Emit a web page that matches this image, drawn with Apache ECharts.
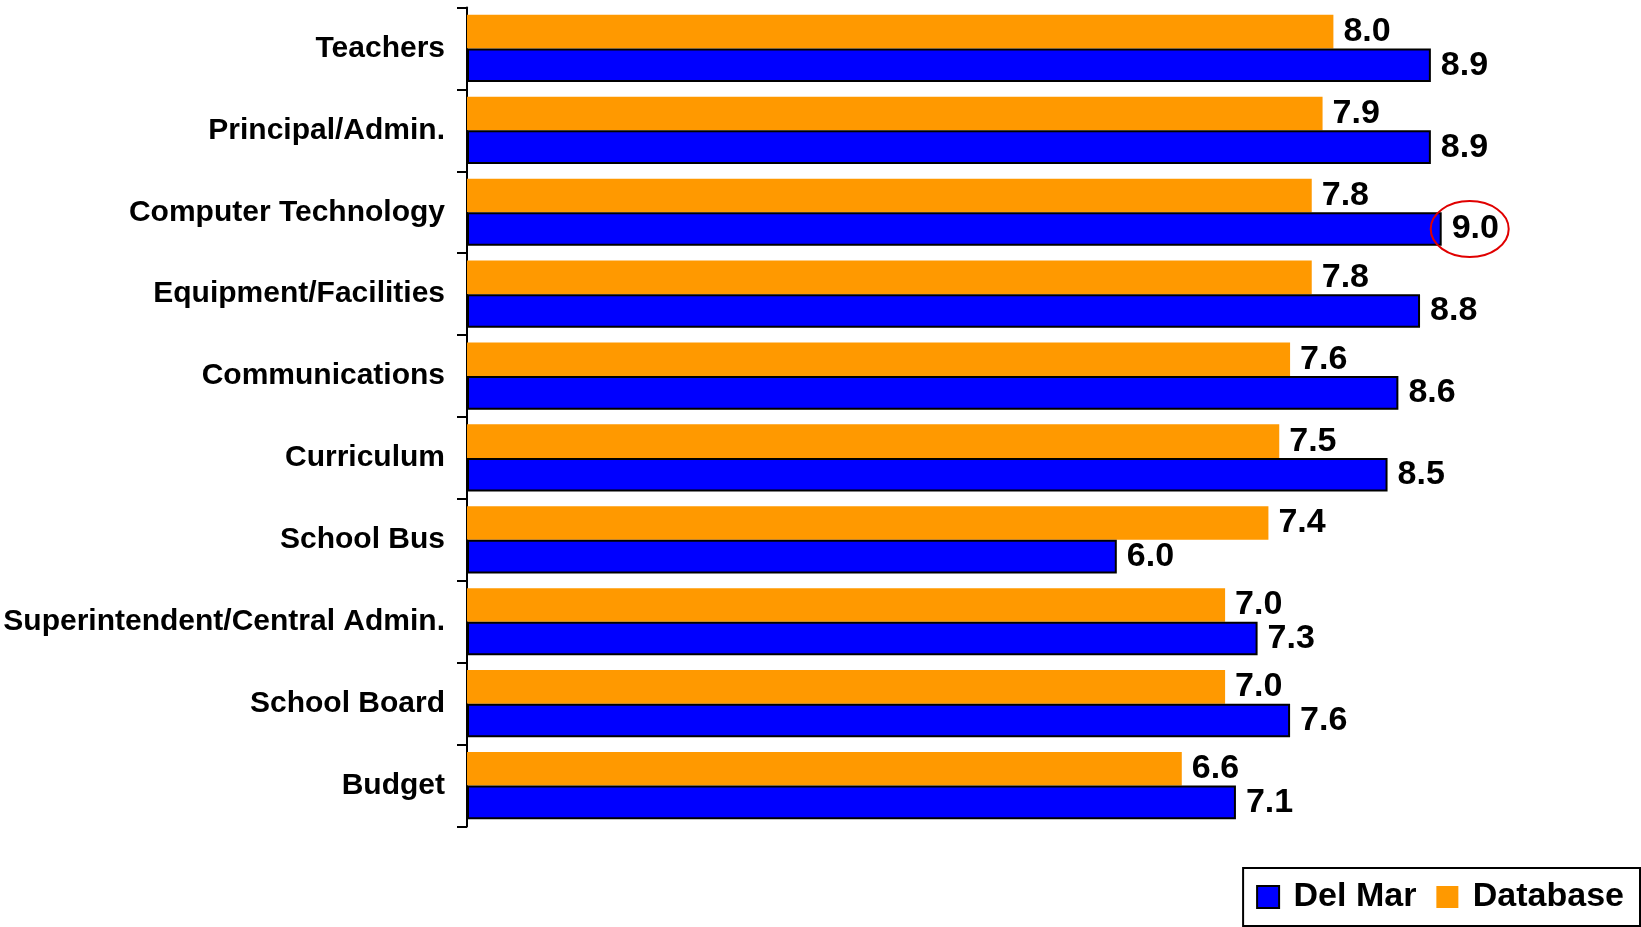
<!DOCTYPE html>
<html>
<head>
<meta charset="utf-8">
<title>Satisfaction ratings</title>
<script src="https://cdn.jsdelivr.net/npm/echarts@6/dist/echarts.min.js"></script>
<style>
  html, body { margin: 0; padding: 0; background: #fff; }
  #chart { width: 1641px; height: 927px; }
</style>
</head>
<body>
<div id="chart"></div>
<script>
// Categories listed top to bottom
const categories = [
  'Teachers',
  'Principal/Admin.',
  'Computer Technology',
  'Equipment/Facilities',
  'Communications',
  'Curriculum',
  'School Bus',
  'Superintendent/Central Admin.',
  'School Board',
  'Budget'
];
const databaseValues = [8.0, 7.9, 7.8, 7.8, 7.6, 7.5, 7.4, 7.0, 7.0, 6.6];
const delMarValues   = [8.9, 8.9, 9.0, 8.8, 8.6, 8.5, 6.0, 7.3, 7.6, 7.1];
const highlightCategory = 'Computer Technology';

const FONT = '"Liberation Sans", Arial, Helvetica, sans-serif';
const chart = echarts.init(document.getElementById('chart'), null, { renderer: 'canvas' });

const valueLabel = {
  show: true,
  position: 'right',
  distance: 10,
  color: '#000',
  fontFamily: FONT,
  fontWeight: 'bold',
  fontSize: 34,
  formatter: p => p.value.toFixed(1)
};

chart.setOption({
  animation: false,
  backgroundColor: '#fff',
  grid: { left: 467, top: 7.5, width: 1083, height: 819, containLabel: false },
  xAxis: {
    type: 'value', min: 0, max: 10,
    show: false
  },
  yAxis: {
    type: 'category',
    data: categories,
    inverse: true,
    axisLine: { show: true, lineStyle: { color: '#000', width: 2 } },
    axisTick: { show: true, length: 10, lineStyle: { color: '#000', width: 2 } },
    axisLabel: {
      color: '#000', fontFamily: FONT, fontWeight: 'bold', fontSize: 30, margin: 22
    },
    splitLine: { show: false }
  },
  legend: {
    data: ['Del Mar', 'Database'],
    right: 1, bottom: 1,
    orient: 'horizontal',
    padding: [9, 16, 9, 13],
    itemGap: 20,
    itemWidth: 22, itemHeight: 22,
    icon: 'rect',
    borderColor: '#000', borderWidth: 2,
    backgroundColor: '#fff',
    formatter: name => ' ' + name,
    textStyle: { color: '#000', fontFamily: FONT, fontWeight: 'bold', fontSize: 34, lineHeight: 40 }
  },
  series: [
    {
      name: 'Database',
      type: 'bar',
      data: databaseValues,
      barGap: 0,
      barCategoryGap: '18%',
      itemStyle: { color: '#FF9900' },
      label: valueLabel
    },
    {
      name: 'Del Mar',
      type: 'bar',
      data: delMarValues,
      barGap: 0,
      barCategoryGap: '18%',
      itemStyle: { color: '#0000FF', borderColor: '#000', borderWidth: 2 },
      label: valueLabel
    }
  ]
});

// Red ring around the Del Mar value for the highlighted category
function drawHighlight() {
  const idx = categories.indexOf(highlightCategory);
  const data = chart.getModel().getSeriesByIndex(1).getData();
  const rect = data.getItemLayout(idx);
  if (!rect) return;
  const endX = rect.x + rect.width;
  const cy = rect.y + rect.height / 2;
  chart.setOption({
    graphic: [{
      type: 'ellipse',
      z: 100,
      shape: { cx: endX + 28, cy: cy, rx: 39, ry: 28 },
      style: { fill: 'none', stroke: '#E00000', lineWidth: 2 }
    }]
  });
}
drawHighlight();
</script>
</body>
</html>
